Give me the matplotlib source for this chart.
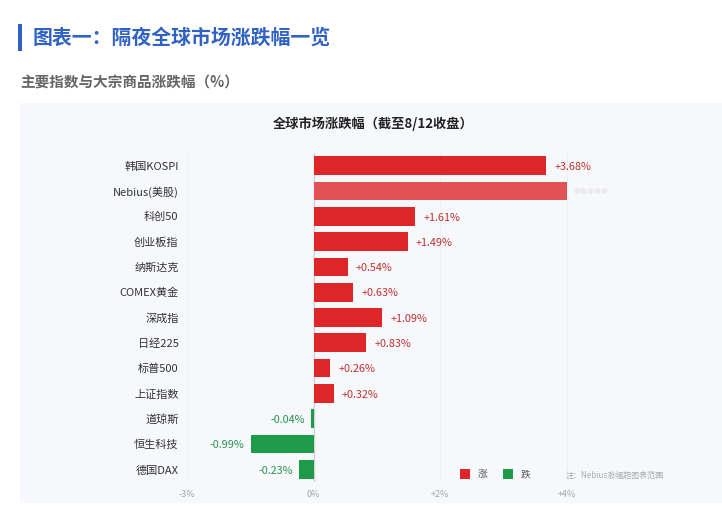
import matplotlib
matplotlib.use("Agg")
import matplotlib.pyplot as plt
from matplotlib.patches import Rectangle

plt.rcParams['font.family'] = ['Noto Sans CJK SC', 'DejaVu Sans']

# 数据
names = ['韩国KOSPI', 'Nebius(美股)', '科创50', '创业板指', '纳斯达克', 'COMEX黄金',
         '深成指', '日经225', '标普500', '上证指数', '道琼斯', '恒生科技', '德国DAX']
changes = [3.68, 4.0, 1.61, 1.49, 0.54, 0.63, 1.09, 0.83, 0.26, 0.32, -0.04, -0.99, -0.23]
value_labels = ['+3.68%', '', '+1.61%', '+1.49%', '+0.54%', '+0.63%', '+1.09%',
                '+0.83%', '+0.26%', '+0.32%', '-0.04%', '-0.99%', '-0.23%']
tick_pos = [-2, 0, 2, 4]
tick_labels = ['-3%', '0%', '+2%', '+4%']

W, H = 722, 525
fig = plt.figure(figsize=(W / 100, H / 100), dpi=100)
fig.patch.set_facecolor('white')

def fx(px):
    return px / W

def fy(py):
    return 1 - py / H

# 标题
fig.add_artist(Rectangle((fx(18), fy(51)), 4 / W, 27 / H, transform=fig.transFigure,
                         facecolor='#2f62c4', edgecolor='none'))
fig.text(fx(33), fy(37), '图表一：隔夜全球市场涨跌幅一览', fontsize=14.3, fontweight='bold',
         color='#2f62c4', va='center', ha='left')
fig.text(fx(20), fy(83), '主要指数与大宗商品涨跌幅（%）', fontsize=10.5, fontweight='bold',
         color='#666666', va='center', ha='left')

# 图表背景
fig.add_artist(Rectangle((fx(20), fy(503)), (W - 20) / W, 400 / H, transform=fig.transFigure,
                         facecolor='#f7f8fb', edgecolor='none', zorder=0))
fig.text(fx(373), fy(124), '全球市场涨跌幅（截至8/12收盘）', fontsize=9.5, fontweight='bold',
         color='#222222', va='center', ha='center')

ax = fig.add_axes([fx(187), fy(482), 506 / W, 329 / H])
ax.set_facecolor('none')
ax.set_xlim(-2, 6)
ax.set_ylim(len(names) - 0.5, -0.5)

for t in tick_pos:
    ax.axvline(t, color='#eef0f3', lw=0.8, zorder=0)
ax.axvline(0, color='#cfd3da', lw=1, zorder=1)

colors = []
for i, v in enumerate(changes):
    if names[i].startswith('Nebius'):
        colors.append('#e05254')
    elif v >= 0:
        colors.append('#dc2627')
    else:
        colors.append('#1e9b48')

ypos = list(range(len(names)))
ax.barh(ypos, changes, height=0.74, color=colors, zorder=2)

for i, (v, lab) in enumerate(zip(changes, value_labels)):
    if names[i].startswith('Nebius'):
        ax.text(v + 0.12, i + 0.05, '●●●●●', fontsize=5, color='#e8e8ec', va='center',
                ha='left', alpha=0.8)
        continue
    if v >= 0:
        ax.text(v + 0.13, i + 0.05, lab, fontsize=7.8, color='#c0302e', va='center', ha='left')
    else:
        ax.text(v - 0.1, i + 0.05, lab, fontsize=7.8, color='#2a9150', va='center', ha='right')

ax.set_yticks(ypos)
ax.set_yticklabels(names, fontsize=8, color='#333333')
ax.tick_params(axis='y', length=0, pad=6)
ax.set_xticks(tick_pos)
ax.set_xticklabels(tick_labels, fontsize=6.5, color='#a0a4ab')
ax.tick_params(axis='x', length=0, pad=6)
for s in ax.spines.values():
    s.set_visible(False)

# 图例与注释
fig.add_artist(Rectangle((fx(460), fy(479)), 10 / W, 10 / H, transform=fig.transFigure,
                         facecolor='#dc2627', edgecolor='none'))
fig.text(fx(478), fy(474), '涨', fontsize=7, color='#555555', va='center', ha='left')
fig.add_artist(Rectangle((fx(503), fy(479)), 10 / W, 10 / H, transform=fig.transFigure,
                         facecolor='#1e9b48', edgecolor='none'))
fig.text(fx(521), fy(474), '跌', fontsize=7, color='#555555', va='center', ha='left')
fig.text(fx(566), fy(475), '注：Nebius涨幅超图表范围', fontsize=5.8, color='#a8acb3',
         va='center', ha='left')

fig.savefig('out.png', dpi=100)
